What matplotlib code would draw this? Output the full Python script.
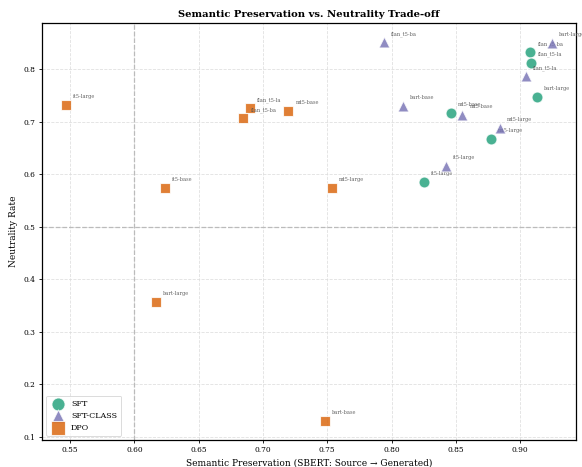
import matplotlib
matplotlib.use("Agg")
import matplotlib.pyplot as plt

plt.rcParams['font.family'] = ['DejaVu Serif']

# SFT
sft_models = ["flan_t5-ba", "flan_t5-la", "bart-large", "mt5-base", "mt5-large", "it5-large"]
sft_sem = [0.908, 0.9085, 0.913, 0.846, 0.877, 0.8255]
sft_neu = [0.832, 0.812, 0.746, 0.717, 0.666, 0.585]

# SFT-CLASS
cls_models = ["bart-large", "flan_t5-ba", "flan_t5-la", "bart-base", "mt5-base", "mt5-large", "it5-large"]
cls_sem = [0.9246, 0.7942, 0.9046, 0.8087, 0.8551, 0.8844, 0.8421]
cls_neu = [0.850, 0.8515, 0.787, 0.729, 0.712, 0.688, 0.615]

# DPO
dpo_models = ["it5-large", "flan_t5-la", "flan_t5-ba", "mt5-base", "it5-base", "mt5-large", "bart-large", "bart-base"]
dpo_sem = [0.5471, 0.690, 0.6848, 0.7198, 0.6241, 0.7537, 0.6169, 0.7483]
dpo_neu = [0.7307, 0.726, 0.707, 0.721, 0.574, 0.574, 0.357, 0.1296]

fig = plt.figure(figsize=(5.82, 4.67), dpi=100)
ax = fig.add_axes([0.0722, 0.0578, 0.9175, 0.8929])

ax.grid(True, linestyle='--', color='#dddddd', linewidth=0.6, alpha=0.9)
ax.set_axisbelow(True)

series = [
    ("SFT", sft_models, sft_sem, sft_neu, 'o', '#1b9e77', 62),
    ("SFT-CLASS", cls_models, cls_sem, cls_neu, '^', '#7570b3', 62),
    ("DPO", dpo_models, dpo_sem, dpo_neu, 's', '#d95f02', 62),
]
for name, models, xs, ys, m, c, s in series:
    ax.scatter(xs, ys, marker=m, color=c, s=s, alpha=0.8, edgecolors='white',
               linewidths=0.8, label=name, zorder=3)
    for lab, x, y in zip(models, xs, ys):
        ax.annotate(lab, (x, y), xytext=(5, 5), textcoords='offset points',
                    fontsize=3.6, color='#555555', alpha=0.9)

ax.axvline(0.6, color='#bbbbbb', linestyle='--', linewidth=0.9, zorder=1)
ax.axhline(0.5, color='#bbbbbb', linestyle='--', linewidth=0.9, zorder=1)

ax.set_xlabel("Semantic Preservation (SBERT: Source \u2192 Generated)", fontsize=6.5, labelpad=3)
ax.set_ylabel("Neutrality Rate", fontsize=6.5, labelpad=4)
ax.set_title("Semantic Preservation vs. Neutrality Trade-off", fontsize=7.2, fontweight='bold', pad=4)

ax.set_xticks([0.55, 0.60, 0.65, 0.70, 0.75, 0.80, 0.85, 0.90])
ax.set_yticks([0.1, 0.2, 0.3, 0.4, 0.5, 0.6, 0.7, 0.8])
ax.tick_params(labelsize=5.4, length=2.5, width=0.6, pad=2)

for sp in ax.spines.values():
    sp.set_color('black')
    sp.set_linewidth(0.9)

leg = ax.legend(loc='lower left', fontsize=5.8, frameon=True, markerscale=1.2,
                handletextpad=0.6, borderpad=0.5, labelspacing=0.5)
leg.get_frame().set_edgecolor('#cccccc')
leg.get_frame().set_linewidth(0.6)

fig.savefig("out.png", dpi=100)
